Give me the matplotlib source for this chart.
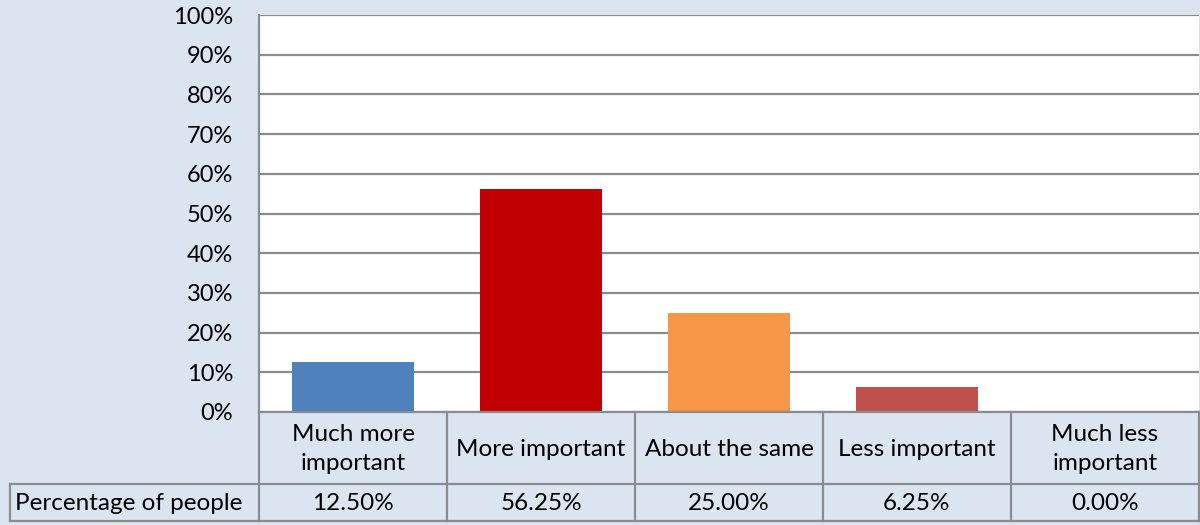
import matplotlib.pyplot as plt

categories = ["Much more\nimportant", "More important", "About the same",
              "Less important", "Much less\nimportant"]
values = [12.50, 56.25, 25.00, 6.25, 0.00]
series_name = "Percentage of people"
colors = ["#4F81BD", "#C00000", "#F79646", "#C0504D", "#8064A2"]
yticks = list(range(0, 101, 10))

bg = "#DBE5F1"
grid_c = "#8C8C8C"
fs = 17.5
plt.rcParams['font.family'] = ['Lato', 'DejaVu Sans']

W, H = 1200, 525
fig = plt.figure(figsize=(12, 5.25), dpi=100, facecolor=bg)

# plot area in pixel coords
x0, x1 = 259, 1199
ytop, ybot = 15, 412
ax = fig.add_axes([x0 / W, 1 - ybot / H, (x1 - x0) / W, (ybot - ytop) / H])
ax.set_facecolor("white")
n = len(categories)
ax.set_xlim(-0.5, n - 0.5)
ax.set_ylim(0, 100)
ax.bar(range(n), values, width=0.65, color=colors[:n], zorder=3)
ax.set_yticks(yticks)
ax.set_yticklabels([f"{t}%" for t in yticks], fontsize=fs - 0.5)
ax.yaxis.grid(True, color=grid_c, linewidth=1.6, zorder=1)
ax.tick_params(axis='y', length=0, pad=18.5)
ax.set_xticks([])
for s in ["top", "right", "bottom"]:
    ax.spines[s].set_visible(False)
ax.spines["left"].set_color(grid_c)
ax.spines["left"].set_linewidth(1.6)

# data table below the plot
tab_bot = 521
lbl_left = 10
tx = fig.add_axes([x0 / W, 1 - tab_bot / H, (x1 - x0) / W, (tab_bot - ybot) / H])
tx.set_xlim(-0.5, n - 0.5)
tx.set_ylim(tab_bot, ybot)
tx.axis("off")
row_mid = 484
lw = 1.6
# column borders
for i in range(n + 1):
    tx.plot([i - 0.5, i - 0.5], [ybot, tab_bot], color=grid_c, lw=lw, clip_on=False)
tx.plot([-0.5, n - 0.5], [ybot, ybot], color=grid_c, lw=lw, clip_on=False)
tx.plot([-0.5, n - 0.5], [tab_bot, tab_bot], color=grid_c, lw=lw, clip_on=False)
# label cell spans to the left
col_w = (x1 - x0) / n
left_x = -0.5 - (x0 - lbl_left) / col_w
tx.plot([left_x, n - 0.5], [row_mid, row_mid], color=grid_c, lw=lw, clip_on=False)
tx.plot([left_x, -0.5], [tab_bot, tab_bot], color=grid_c, lw=lw, clip_on=False)
tx.plot([left_x, left_x], [row_mid, tab_bot], color=grid_c, lw=lw, clip_on=False)

for i, (c, v) in enumerate(zip(categories, values)):
    tx.text(i, (ybot + row_mid) / 2 + 1, c, ha="center", va="center",
            fontsize=fs, linespacing=1.5)
    tx.text(i, (row_mid + tab_bot) / 2 + 1, f"{v:.2f}%", ha="center",
            va="center", fontsize=fs)
tx.text(left_x + 0.025, (row_mid + tab_bot) / 2 + 1, series_name, ha="left",
        va="center", fontsize=fs, clip_on=False)

fig.savefig("out.png", dpi=100, facecolor=bg)
